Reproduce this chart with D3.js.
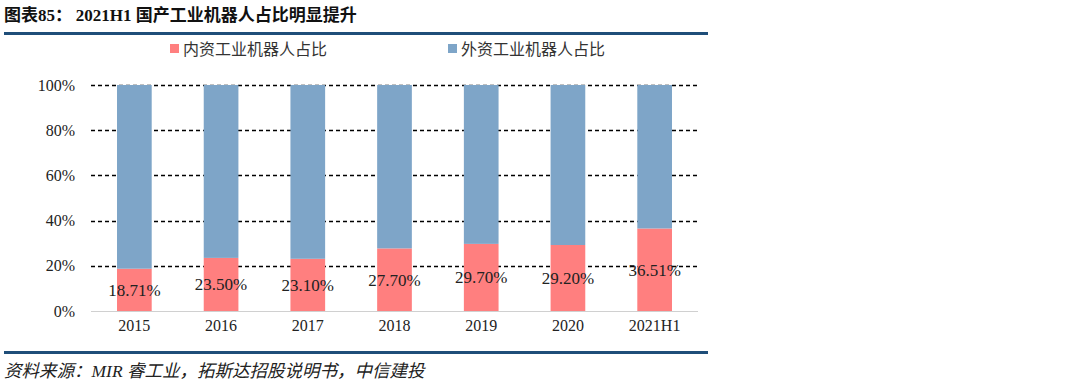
<!DOCTYPE html>
<html><head><meta charset="utf-8">
<script src="https://cdn.jsdelivr.net/npm/d3@7"></script>
<style>body{margin:0;background:#fff}svg{display:block}</style>
</head><body>
<svg id="c" width="1080" height="382"></svg>
<script>
const categories = ["2015","2016","2017","2018","2019","2020","2021H1"];
const domestic = [18.71, 23.50, 23.10, 27.70, 29.70, 29.20, 36.51];
const foreign = [81.29, 76.50, 76.90, 72.30, 70.30, 70.80, 63.49];
const seriesNames = ["内资工业机器人占比", "外资工业机器人占比"];
const yTicks = [0, 20, 40, 60, 80, 100];

const svg = d3.select("#c");
const serif = "'Liberation Serif','Times New Roman',serif";
const cjk = "'Noto Sans CJK SC','Noto Sans',sans-serif";
const colors = ["#FF7F7F", "#7EA5C8"];

// title
const t = svg.append("text").attr("x", 4).attr("y", 21).attr("font-size", 17).attr("font-weight", "bold").attr("fill", "#111");
t.append("tspan").attr("font-family", cjk).text("图表");
t.append("tspan").attr("font-family", serif).text("85");
t.append("tspan").attr("font-family", cjk).text("：  ");
t.append("tspan").attr("font-family", serif).text("2021H1 ");
t.append("tspan").attr("font-family", cjk).text("国产工业机器人占比明显提升");

svg.append("line").attr("x1", 4).attr("x2", 708).attr("y1", 33.5).attr("y2", 33.5).attr("stroke", "#1F4E79").attr("stroke-width", 3);
svg.append("line").attr("x1", 4).attr("x2", 708).attr("y1", 352.5).attr("y2", 352.5).attr("stroke", "#1F4E79").attr("stroke-width", 3);

// source
const s = svg.append("text").attr("x", 4).attr("y", 377).attr("font-size", 17.5).attr("font-style", "italic").attr("fill", "#222");
s.append("tspan").attr("font-family", cjk).text("资料来源：");
s.append("tspan").attr("font-family", serif).text("MIR ");
s.append("tspan").attr("font-family", cjk).text("睿工业，拓斯达招股说明书，中信建投");

// legend
const legX = [170, 448];
seriesNames.forEach((n, i) => {
  svg.append("rect").attr("x", legX[i]).attr("y", 44).attr("width", 9).attr("height", 9).attr("fill", colors[i]);
  svg.append("text").attr("x", legX[i] + 13).attr("y", 55).attr("font-family", cjk).attr("font-size", 16).attr("fill", "#333").text(n);
});

const x = d3.scaleBand().domain(categories).range([91, 698]).paddingInner(0.6).paddingOuter(0.3);
const y = d3.scaleLinear().domain([0, 100]).range([311, 85]);

// gridlines
svg.append("g").selectAll("line").data(yTicks.filter(d => d > 0)).join("line")
  .attr("x1", 91).attr("x2", 698).attr("y1", d => Math.round(y(d)) + 0.5).attr("y2", d => Math.round(y(d)) + 0.5)
  .attr("stroke", "#000").attr("stroke-width", 1.3).attr("stroke-dasharray", "4,3");

const stack = d3.stack().keys([0, 1]).value((d, k) => d[k]);
const rows = categories.map((c, i) => ({0: domestic[i], 1: foreign[i], cat: c}));
const layers = stack(rows);
layers.forEach((layer, k) => {
  svg.append("g").selectAll("rect").data(layer).join("rect")
    .attr("x", d => x(d.data.cat)).attr("width", x.bandwidth())
    .attr("y", d => y(d[1])).attr("height", d => y(d[0]) - y(d[1]))
    .attr("fill", colors[k]);
});

// axis baseline
svg.append("line").attr("x1", 91).attr("x2", 698).attr("y1", 311.5).attr("y2", 311.5).attr("stroke", "#D0D0D0").attr("stroke-width", 1.2);

// y axis labels
const yAxis = d3.axisLeft(y).tickValues(yTicks).tickFormat(d => d + "%").tickSize(0).tickPadding(0);
const ya = svg.append("g").attr("transform", "translate(75,0)").call(yAxis);
ya.select(".domain").remove();
ya.selectAll("text").attr("font-family", serif).attr("font-size", 16).attr("fill", "#222");

// x axis labels
const xAxis = d3.axisBottom(x).tickSize(0).tickPadding(0);
const xa = svg.append("g").attr("transform", "translate(0,320)").call(xAxis);
xa.select(".domain").remove();
xa.selectAll("text").attr("font-family", serif).attr("font-size", 16).attr("fill", "#222");

// data labels
svg.append("g").selectAll("text").data(layers[0]).join("text")
  .attr("x", d => x(d.data.cat) + x.bandwidth() / 2)
  .attr("y", d => y((d[0] + d[1]) / 2) + 6)
  .attr("text-anchor", "middle").attr("font-family", serif).attr("font-size", 17).attr("fill", "#222")
  .text(d => d.data[0].toFixed(2) + "%");
</script>
</body></html>
